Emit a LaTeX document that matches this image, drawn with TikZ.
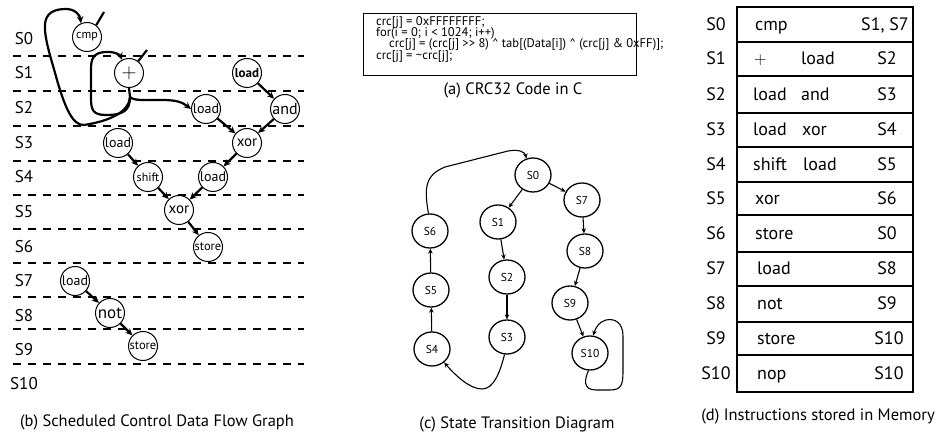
\documentclass[tikz,border=0pt]{standalone}
\usepackage{fontspec}
\setmainfont{PT Sans}
\usetikzlibrary{arrows.meta,shapes.geometric}
\newcommand{\fsz}[1]{\fontsize{#1}{#1}\selectfont}
\begin{document}
\begin{tikzpicture}[x=1pt,y=-1pt,
  op/.style={circle,draw,line width=1pt,minimum size=29pt,inner sep=0pt},
  stt/.style={ellipse,draw,line width=1.3pt,minimum width=36pt,minimum height=34pt,inner sep=0pt,font=\fsz{11.5}},
  darr/.style={line width=2.2pt,-{Stealth[length=7pt,width=6.5pt]}},
  plainthick/.style={line width=2.2pt},
  sarr/.style={line width=1.1pt,-{Stealth[length=5pt,width=4.5pt]}},
  stagelbl/.style={anchor=base,font=\fsz{17},inner sep=0pt},
  stageline/.style={line width=2.4pt,dash pattern=on 8pt off 7pt},
  captext/.style={anchor=base,font=\fsz{16.5},inner sep=0pt},
  codeline/.style={anchor=base west,font=\fsz{12.6},inner sep=0pt},
  cellt/.style={anchor=base west,font=\fsz{18},inner sep=0pt},
  nxt/.style={anchor=base,font=\fsz{18},inner sep=0pt},
  rowlbl/.style={anchor=base,font=\fsz{18},inner sep=0pt},
  rowbox/.style={draw,line width=2pt}
]
\useasboundingbox (0,0) rectangle (945,438);

% ---------- (b) scheduled CDFG ----------
\foreach \yy in {56,91,126,161,195,229,263,297,329,364}
  \draw[stageline] (13,\yy) -- (304,\yy);
\foreach \lbl/\yy in {S0/39,S1/73,S2/108,S3/143,S4/177,S5/212,S6/247,S7/281,S8/315,S9/349,S10/383}
  \node[stagelbl] (b\lbl) at (24,\yy+6) {\lbl};

\node[op,font=\fsz{12}] (cmp) at (87,37) {cmp};
\node[op,font=\fsz{22}] (plus) at (129,73) {$+$};
\node[op,font=\fsz{13}\bfseries] (ldA) at (247,73) {load};
\node[op,font=\fsz{14}] (ldB) at (206,109) {load};
\node[op,font=\fsz{16}] (andop) at (285,109) {and};
\node[op,font=\fsz{15}] (xorA) at (247,143) {xor};
\node[op,font=\fsz{14}] (ldC) at (118,143) {load};
\node[op,font=\fsz{12}] (shiftop) at (148,177) {shift};
\node[op,font=\fsz{14}] (ldD) at (213,177) {load};
\node[op,font=\fsz{15}] (xorB) at (179,210) {xor};
\node[op,font=\fsz{12.5}] (stA) at (208,247) {store};
\node[op,font=\fsz{14}] (ldE) at (75,281) {load};
\node[op,font=\fsz{17}] (notop) at (110,313) {not};
\node[op,font=\fsz{12.5}] (stB) at (143,346) {store};

\coordinate (cmpin) at (104,12);
\coordinate (plusin) at (147,50);
\draw[plainthick] (cmp.52) -- (cmpin);
\draw[plainthick] (plus.52) -- (plusin);

\draw[darr] (ldA) -- (andop);
\draw[darr] (ldB) -- (xorA);
\draw[darr] (andop) -- (xorA);
\draw[darr] (xorA) -- (ldD);
\draw[darr] (ldC) -- (shiftop);
\draw[darr] (shiftop) -- (xorB);
\draw[darr] (ldD) -- (xorB);
\draw[darr] (xorB) -- (stA);
\draw[darr] (ldE) -- (notop);
\draw[darr] (notop) -- (stB);

\coordinate (pstem) at (130,97);
\draw[plainthick] (plus.south) -- (pstem);
\draw[darr] (pstem) .. controls (134,101) and (145,100) .. (162,100)
  .. controls (176,100) and (182,102) .. (ldB.west);
\draw[darr] (pstem) .. controls (130,110) and (124,115) .. (106,115)
  .. controls (93,115) and (91,110) .. (91,98) -- (91,68)
  .. controls (91,55) and (97,52) .. (108,52)
  .. controls (116,52) and (120,55) .. (plus.118);
\draw[darr] (pstem) .. controls (129,112) and (110,121) .. (84,125)
  .. controls (72,126) and (64,104) .. (57,80)
  .. controls (51,58) and (44,38) .. (45,24)
  .. controls (46,13) and (54,9) .. (66,9)
  .. controls (75,9) and (80,15) .. (cmp.114);

\node[captext] (capb) at (157,426) {(b) Scheduled Control Data Flow Graph};

% ---------- (a) code ----------
\draw[line width=1pt] (363,14) rectangle (636,76);
\node[codeline] (codeA) at (376,25.5) {crc[j] = 0xFFFFFFFF;};
\node[codeline] (codeB) at (376,36.7) {for(i = 0; i < 1024; i++)};
\node[codeline] (codeC) at (389,47.9) {crc[j] = (crc[j] \textgreater{}\textgreater{} 8) \textasciicircum{} tab[(Data[i]) \textasciicircum{} (crc[j] \& 0xFF)];};
\node[codeline] (codeD) at (376,59.1) {crc[j] = \textasciitilde crc[j];};
\node[captext] (capa) at (513,95) {(a) CRC32 Code in C};

% ---------- (c) state transition diagram ----------
\node[stt] (c0) at (533,175) {S0};
\node[stt] (c7) at (582,200) {S7};
\node[stt] (c1) at (498,222) {S1};
\node[stt] (c6) at (430,231) {S6};
\node[stt] (c8) at (585,251) {S8};
\node[stt] (c2) at (507,277) {S2};
\node[stt] (c5) at (431,290) {S5};
\node[stt] (c9) at (570,303) {S9};
\node[stt] (c3) at (507,337) {S3};
\node[stt] (c4) at (432,349) {S4};
\node[stt] (c10) at (590,353) {S10};

\draw[sarr] (c0) -- (c1);
\draw[sarr] (c0) -- (c7);
\draw[sarr] (c7) -- (c8);
\draw[sarr] (c8) -- (c9);
\draw[sarr] (c9) -- (c10);
\draw[sarr] (c1) -- (c2);
\draw[sarr] (c2) -- (c3);
\draw[sarr] (c4) -- (c5);
\draw[sarr] (c5) -- (c6);
\draw[sarr] (c3.262) .. controls (500,372) and (494,389) .. (482,389)
  .. controls (470,389) and (456,376) .. (c4.-48);
\draw[sarr] (c6.95) .. controls (424,188) and (425,175) .. (445,167)
  -- (508,151) .. controls (519,149) and (525,152) .. (c0.112);
\draw[sarr] (c10.265) .. controls (585,378) and (582,390) .. (596,390)
  -- (610,390) .. controls (622,390) and (623,384) .. (623,370)
  -- (623,336) .. controls (623,323) and (615,318) .. (606,320)
  .. controls (599,322) and (596,327) .. (c10.80);

\node[captext] (capc) at (517,428) {(c) State Transition Diagram};

% ---------- (d) instructions in memory ----------
\foreach \ta/\tb in {7/42,42/76,76/113,113/147,147/182,182/215,215/252,252/286,286/322,322/355,355/392}
  \draw[rowbox] (737,\ta) rectangle (913,\tb);
\foreach \lbl/\cy in {S0/24.5,S1/59,S2/94.5,S3/130,S4/164.5,S5/198.5,S6/233.5,S7/269,S8/304,S9/338.5,S10/373.5}
  \node[rowlbl] (d\lbl) at (716,\cy+6) {\lbl};
\node[cellt] (iA) at (755,30.5) {cmp};
\node[nxt] (nA) at (885,30.5) {S1, S7};
\node[cellt] (iB) at (754,65) {$+$};
\node[cellt] (iB2) at (801,65) {load};
\node[nxt] (nB) at (887,65) {S2};
\node[cellt] (iC) at (753,100.5) {load};
\node[cellt] (iC2) at (801,100.5) {and};
\node[nxt] (nC) at (887,100.5) {S3};
\node[cellt] (iD) at (753,136) {load};
\node[cellt] (iD2) at (802,136) {xor};
\node[nxt] (nD) at (887,136) {S4};
\node[cellt] (iE) at (753,170.5) {shift};
\node[cellt] (iE2) at (803,170.5) {load};
\node[nxt] (nE) at (887,170.5) {S5};
\node[cellt] (iF) at (755,204.5) {xor};
\node[nxt] (nF) at (887,204.5) {S6};
\node[cellt] (iG) at (755,239.5) {store};
\node[nxt] (nG) at (887,239.5) {S0};
\node[cellt] (iH) at (757,275) {load};
\node[nxt] (nH) at (887,275) {S8};
\node[cellt] (iI) at (757,310) {not};
\node[nxt] (nI) at (887,310) {S9};
\node[cellt] (iJ) at (757,344.5) {store};
\node[nxt] (nJ) at (889,344.5) {S10};
\node[cellt] (iK) at (757,379.5) {nop};
\node[nxt] (nK) at (889,379.5) {S10};

\node[captext] (capd) at (818,420) {(d) Instructions stored in Memory};
\end{tikzpicture}
\end{document}
